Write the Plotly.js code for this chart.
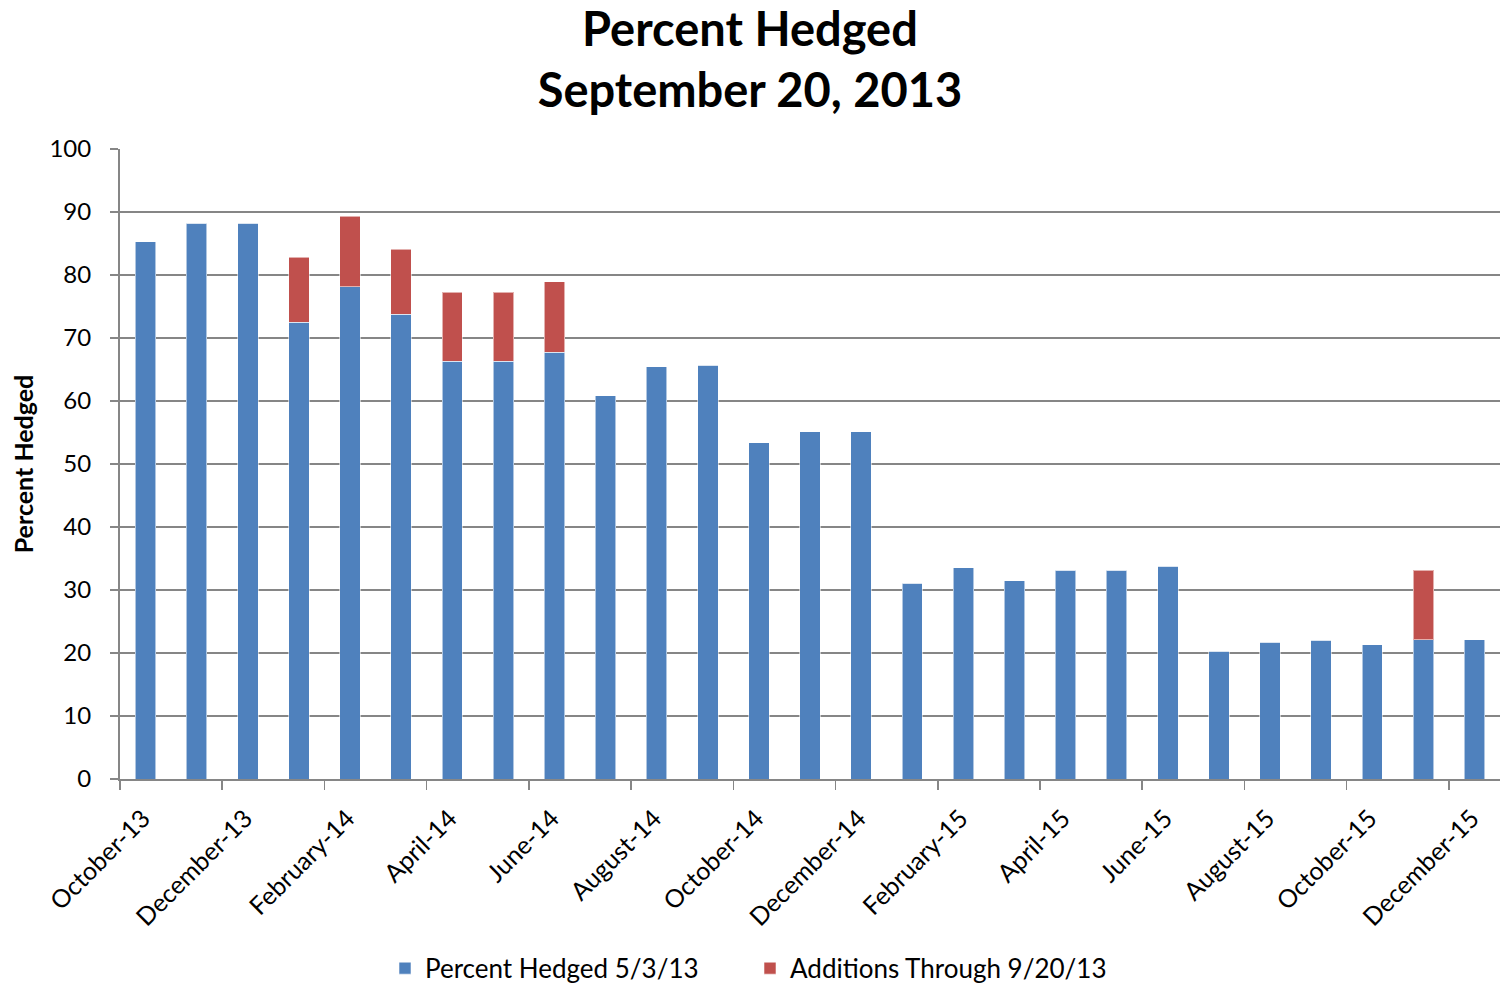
<!DOCTYPE html>
<html>
<head>
<meta charset="utf-8">
<script src="https://cdn.plot.ly/plotly-3.0.1.min.js"></script>
<style>html,body{margin:0;padding:0;background:#fff;}#chart{width:1500px;height:983px;}</style>
</head>
<body>
<div id="chart"></div>
<script>
const months = ["October-13","November-13","December-13","January-14","February-14","March-14","April-14","May-14","June-14","July-14","August-14","September-14","October-14","November-14","December-14","January-15","February-15","March-15","April-15","May-15","June-15","July-15","August-15","September-15","October-15","November-15","December-15"];
const hedged = [85.3,88.2,88.2,72.5,78.1,73.8,66.3,66.3,67.7,60.8,65.4,65.7,53.4,55.1,55.1,31.1,33.5,31.5,33.1,33.1,33.8,20.3,21.7,22.0,21.3,22.1,22.1];
const additions = [0,0,0,10.3,11.2,10.3,11.0,11.0,11.2,0,0,0,0,0,0,0,0,0,0,0,0,0,0,0,0,11.0,0];

const xIdx = months.map((m,i)=>i);
const tickIdx = xIdx.filter(i=>i%2===0);
const tickVals = tickIdx.map(i=>i-0.5);
const tickText = tickIdx.map(i=>months[i]);

const FONT = "Lato, 'Open Sans', sans-serif";
const lineStyle = {color:'rgba(255,255,255,0.55)', width:1};

const traces = [
  {type:'bar', name:'Percent Hedged 5/3/13', x:xIdx, y:hedged, width:0.4,
   marker:{color:'#4F81BD', line:lineStyle}, hoverinfo:'y'},
  {type:'bar', name:'Additions Through 9/20/13', x:xIdx, y:additions, width:0.4,
   marker:{color:'#C0504D', line:lineStyle}, hoverinfo:'y'}
];

const layout = {
  width:1500, height:983,
  barmode:'stack',
  paper_bgcolor:'#fff', plot_bgcolor:'#fff',
  font:{family:FONT, color:'#000', size:24},
  margin:{l:120, r:0, t:149, b:204},
  title:{text:'<b>Percent Hedged<br>September 20, 2013</b>', x:0.5, xref:'container', y:0.953, yref:'container', yanchor:'middle',
         font:{family:FONT, size:47, color:'#000'}},
  xaxis:{range:[-0.5,26.5], tickmode:'array', tickvals:tickVals, ticktext:tickText, tickangle:-45,
         ticklabelshift:23, ticklabelstandoff:4,
         showgrid:false, zeroline:false, showline:true, linecolor:'#868686', linewidth:2,
         ticks:'outside', ticklen:9, tickcolor:'#868686', tickwidth:1.5,
         tickfont:{family:FONT, size:25, color:'#000'}},
  yaxis:{range:[0,100], dtick:10, tick0:0, showgrid:true, gridcolor:'#868686', gridwidth:1.5,
         zeroline:false, showline:true, linecolor:'#868686', linewidth:2,
         ticks:'outside', ticklen:8, tickcolor:'#868686', tickwidth:1.5, ticklabelstandoff:14,
         tickfont:{family:FONT, size:24, color:'#000'},
         title:{text:'<b>Percent Hedged</b>', font:{family:FONT, size:25, color:'#000'}, standoff:9}},
  legend:{orientation:'h', x:0.5, xref:'container', xanchor:'center', y:0.015, yref:'container', yanchor:'middle',
          font:{family:FONT, size:26, color:'#000'}, itemwidth:30, traceorder:'normal',
          entrywidth:320, entrywidthmode:'pixels'},
  showlegend:true
};

Plotly.newPlot('chart', traces, layout, {displayModeBar:false, staticPlot:true});
</script>
</body>
</html>
